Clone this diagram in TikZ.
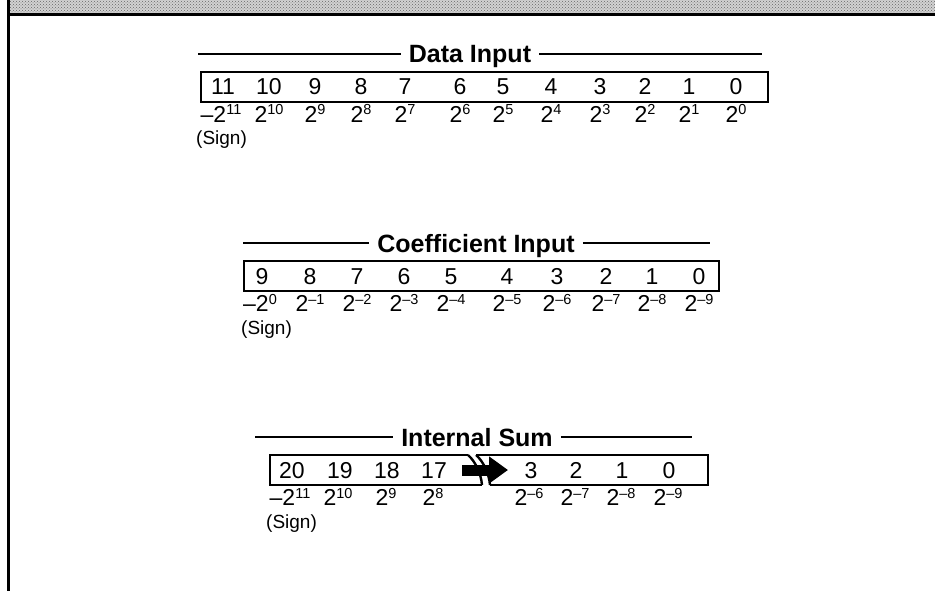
\documentclass[tikz,border=0pt]{standalone}
\usepackage{fontspec}
\setmainfont{Liberation Sans}
\usetikzlibrary{patterns,arrows.meta}
\newcommand\pw[1]{2\raisebox{7.5pt}{\fontsize{14.5}{14.5}\selectfont #1}}
\newcommand\mn{\textendash}
\begin{document}
\begin{tikzpicture}[x=1pt,y=-1pt,
  ttl/.style={font=\fontsize{25}{25}\selectfont\bfseries, inner sep=0pt, anchor=base},
  dig/.style={font=\fontsize{23}{23}\selectfont, inner sep=0pt, anchor=base},
  pwr/.style={font=\fontsize{23}{23}\selectfont, inner sep=0pt, anchor=base},
  sgn/.style={font=\fontsize{19}{19}\selectfont, inner sep=0pt, anchor=base west},
  rule/.style={line width=1.2pt},
  boxln/.style={line width=2.4pt, line join=miter}]
\useasboundingbox (0,0) rectangle (935,591);
% banner
\fill[gray!35] (9,0) rectangle (935,13);
\fill[pattern=crosshatch dots, pattern color=black!60] (9,0) rectangle (935,13);
\draw[line width=3pt] (8,14.5) -- (935,14.5);
\draw[line width=3pt] (8,0) -- (8,591);

% ---------------- Data Input
\node[ttl] (dt) at (470,63) {Data Input};
\coordinate (dtl) at (198,54);
\coordinate (dtr) at (762,54);
\draw[rule] (dtl) -- ([xshift=-8pt]dtl -| dt.west);
\draw[rule] ([xshift=8pt]dtr -| dt.east) -- (dtr);
\draw[boxln] (201,72) rectangle (768,102);
\foreach \t/\x [count=\i] in {11/223,10/269,9/315,8/361,7/405,6/460,5/503,4/551,3/600,2/645,1/689,0/736}
  \node[dig] (dd\i) at (\x,95) {\t};
\foreach \t/\x [count=\i] in {\mn\pw{11}/221,\pw{10}/269,\pw{9}/315,\pw{8}/361,\pw{7}/405,\pw{6}/460,\pw{5}/503,\pw{4}/551,\pw{3}/600,\pw{2}/645,\pw{1}/689,\pw{0}/736}
  \node[pwr] (dp\i) at (\x,122.5) {\t};
\node[sgn] (ds) at (196,145) {(Sign)};

% ---------------- Coefficient Input
\node[ttl] (ct) at (476,252) {Coefficient Input};
\coordinate (ctl) at (243,243);
\coordinate (ctr) at (710,243);
\draw[rule] (ctl) -- ([xshift=-8pt]ctl -| ct.west);
\draw[rule] ([xshift=8pt]ctr -| ct.east) -- (ctr);
\draw[boxln] (244,261) rectangle (719,291);
\foreach \t/\x [count=\i] in {9/262,8/310,7/357,6/404,5/451,4/507,3/557,2/606,1/652,0/699}
  \node[dig] (cd\i) at (\x,284) {\t};
\foreach \t/\x [count=\i] in {\mn\pw{0}/260,\pw{\mn1}/310,\pw{\mn2}/357,\pw{\mn3}/404,\pw{\mn4}/451,\pw{\mn5}/507,\pw{\mn6}/557,\pw{\mn7}/606,\pw{\mn8}/652,\pw{\mn9}/699}
  \node[pwr] (cp\i) at (\x,311.5) {\t};
\node[sgn] (cs) at (241,334) {(Sign)};

% ---------------- Internal Sum
\node[ttl] (it) at (477,446) {Internal Sum};
\coordinate (itl) at (255,437);
\coordinate (itr) at (692,437);
\draw[rule] (itl) -- ([xshift=-8pt]itl -| it.west);
\draw[rule] ([xshift=8pt]itr -| it.east) -- (itr);
\draw[boxln] (468,455) -- (270,455) -- (270,485) -- (482,485);
\draw[boxln] (468,455) .. controls (475,461) and (481,473) .. (482,485);
\draw[boxln] (476,455) .. controls (483,461) and (489,473) .. (490,485);
\draw[boxln] (476,455) -- (708,455) -- (708,485) -- (490,485);
\foreach \t/\x [count=\i] in {20/292,19/340,18/387,17/434,3/531,2/576,1/622,0/669}
  \node[dig] (id\i) at (\x,478) {\t};
\foreach \t/\x [count=\i] in {\mn\pw{11}/290,\pw{10}/338,\pw{9}/386,\pw{8}/433,\pw{\mn6}/529,\pw{\mn7}/575,\pw{\mn8}/621,\pw{\mn9}/668}
  \node[pwr] (ip\i) at (\x,505.5) {\t};
\node[sgn] (is) at (266,528) {(Sign)};
\coordinate (as) at (462,470);
\coordinate (ae) at (508,470);
\draw[line width=11pt, -{Triangle[length=19pt,width=26pt]}] (as) -- (ae);
\end{tikzpicture}
\end{document}
